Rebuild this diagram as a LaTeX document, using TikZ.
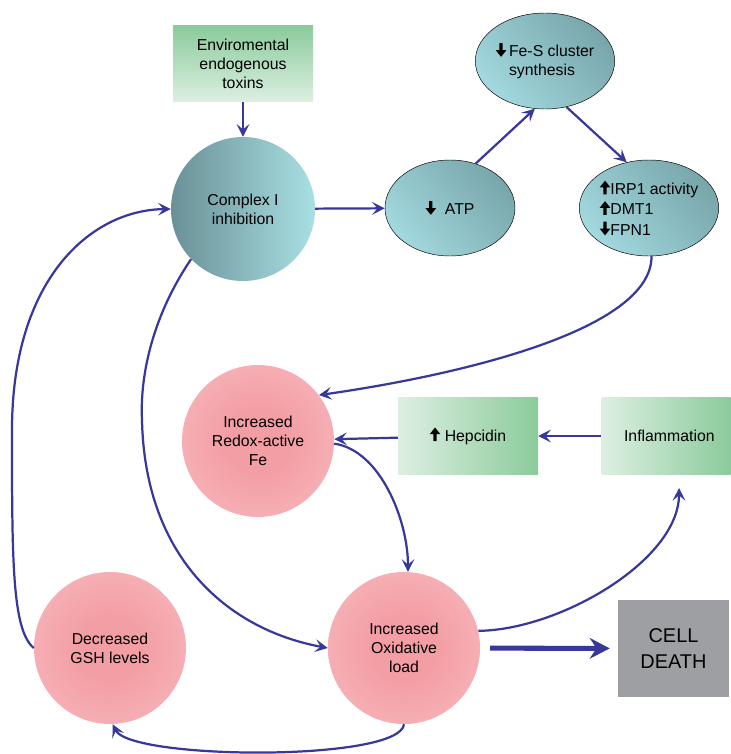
\documentclass[tikz,border=0pt]{standalone}
\usepackage{fontspec}
\setmainfont{Liberation Sans}
\usetikzlibrary{shapes.geometric,arrows.meta}

\definecolor{arrowblue}{HTML}{38389B}
\definecolor{greenD}{HTML}{8BCB9B}
\definecolor{greenL}{HTML}{DDEFE2}
\definecolor{tealA}{HTML}{6A9096}
\definecolor{tealB}{HTML}{A8E0E3}
\definecolor{ovalD}{HTML}{78A6AB}
\definecolor{ovalL}{HTML}{A2D8DE}
\definecolor{pinkC}{HTML}{F39DA4}
\definecolor{pinkE}{HTML}{FACCCF}
\definecolor{deathgray}{HTML}{9D9FA2}

\pgfdeclareradialshading{pinkglow}{\pgfpoint{0bp}{0bp}}{color(0bp)=(pinkC); color(10bp)=(pinkC); color(50bp)=(pinkE)}

\newcommand{\uparr}{\tikz[baseline=0pt,x=1mm,y=1mm]\fill (1.1,0) -- (2.1,0) -- (2.1,2.1) -- (3.2,2.1) -- (1.6,4.1) -- (0,2.1) -- (1.1,2.1) -- cycle;}
\newcommand{\dnarr}{\tikz[baseline=0pt,x=1mm,y=1mm]\fill (1.1,4.1) -- (2.1,4.1) -- (2.1,2) -- (3.2,2) -- (1.6,0) -- (0,2) -- (1.1,2) -- cycle;}

\begin{document}
\begin{tikzpicture}[x=0.3mm,y=-0.3mm,
    flow/.style={draw=arrowblue, line width=1.9pt, -{Stealth[length=3.8mm,width=3.8mm,inset=1.6mm]}}]
\useasboundingbox (0,0) rectangle (731,754);

\begin{scope}[every node/.style={font=\fontsize{13.5}{16}\selectfont, align=center, inner sep=0pt}]
    \node (TOX)[rectangle, minimum width=42mm, minimum height=22.8mm, top color=greenD, bottom color=greenL] at (243,64) {Enviromental\\endogenous\\toxins};
    \node (CI)[circle, minimum size=43.2mm, left color=tealA, right color=tealB] at (243,209) {Complex I\\inhibition};
    \node (ATP)[ellipse, draw=black, thin, minimum width=39mm, minimum height=28.8mm, top color=ovalD, bottom color=ovalL, shading angle=-50] at (450,208) {\dnarr\ \ ATP};
    \node (FES)[ellipse, draw=black, thin, minimum width=39mm, minimum height=28.8mm, top color=ovalD, bottom color=ovalL, shading angle=-50, align=left] at (545,61) {\dnarr\,Fe-S cluster\\\hphantom{\dnarr\,}synthesis};
    \node (IRP)[ellipse, draw=black, thin, minimum width=39.6mm, minimum height=28.8mm, top color=ovalD, bottom color=ovalL, shading angle=-50, align=left, font=\fontsize{13.5}{17.5}\selectfont] at (649,208) {\uparr IRP1 activity\\\uparr DMT1\\\dnarr FPN1};
    \node (FE)[circle, minimum size=45.6mm, shading=pinkglow, shade] at (258,441) {Increased\\Redox-active\\Fe};
    \node (HEP)[rectangle, minimum width=42mm, minimum height=23.1mm, left color=greenL, right color=greenD] at (468,436) {\uparr\ Hepcidin};
    \node (INF)[rectangle, minimum width=38.7mm, minimum height=23.1mm, left color=greenL, right color=greenD] at (666,436) {\hspace{2mm}Inflammation};
    \node (OX)[circle, minimum size=45.6mm, shading=pinkglow, shade] at (404,648) {Increased\\Oxidative\\load};
    \node (GSH)[circle, minimum size=45.6mm, shading=pinkglow, shade] at (110,648) {Decreased\\GSH levels};
    \node (CD)[rectangle, minimum width=33.3mm, minimum height=29.1mm, fill=deathgray, font=\fontsize{17}{21.5}\selectfont] at (673.5,648.5) {CELL\\DEATH};
\end{scope}

\coordinate (infin) at (679,488);

\begin{scope}[every edge/.style={flow}]
    \path (TOX) edge (CI);
    \path (CI) edge (ATP);
    \path (ATP.60) edge (FES.-102);
    \path (FES.-65) edge (IRP.116);
    \path (INF) edge (HEP);
    \path (HEP) edge (FE);
\end{scope}

\draw[flow] (IRP.-87) .. controls (652,330) and (460,375) .. (FE.37);
\draw[flow] (FE.-2) .. controls (380,450) and (408,520) .. (OX.87);
\draw[flow] (CI.-136) .. controls (150,320) and (140,380) .. (142,420) .. controls (145,560) and (230,630) .. (OX.west);
\draw[flow] (GSH.west) .. controls (12,630) and (12,560) .. (12,430) .. controls (12,280) and (90,210) .. (CI.west);
\draw[flow] (OX.13) .. controls (560,630) and (679,560) .. (infin);
\draw[flow] (OX.-90) .. controls (400,762) and (130,760) .. (GSH.-88);
\draw[draw=arrowblue, line width=4.3pt, -{Stealth[length=6mm,width=6.2mm,inset=2mm]}, shorten <=3mm, shorten >=2.4mm] (OX) -- (CD);
\end{tikzpicture}
\end{document}
